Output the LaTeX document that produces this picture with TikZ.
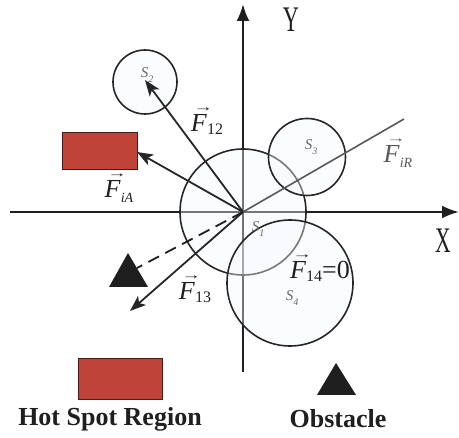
\documentclass[tikz,border=0pt]{standalone}
\usepackage{fontspec}
\setmainfont{Liberation Serif}
\usetikzlibrary{arrows.meta}
\definecolor{hotred}{HTML}{C0433A}
\definecolor{circfill}{HTML}{F4F7FC}
\newcommand{\vecF}{\makebox[0pt][l]{\raisebox{0.8em}{\hspace{0.1em}\fontsize{13}{13}\selectfont\scalebox{1.5}[1]{→}}}\textit{F}}
\newcommand{\sub}[1]{\raisebox{-0.1em}{\fontsize{16}{16}\selectfont #1}}
\newcommand{\isub}[1]{\raisebox{-0.18em}{\fontsize{14}{14}\selectfont\itshape #1}}
\newcommand{\ssub}[1]{\raisebox{-0.35em}{\fontsize{10}{10}\selectfont #1}}
\begin{document}
\begin{tikzpicture}[x=1pt,y=-1pt,
  axis/.style={line width=2.4pt, draw=black!88},
  axtip/.style={-{Latex[length=17pt,width=13pt]}},
  force/.style={line width=1.8pt, draw=black!85, -{Stealth[length=16pt,width=12pt,inset=4pt]}},
  region/.style={circle, draw=black!85, line width=1.6pt, fill=circfill, fill opacity=0.4, inner sep=0pt},
  slabel/.style={text=black!60, font=\fontsize{15}{15}\selectfont\itshape, inner sep=0pt},
  flabel/.style={font=\fontsize{26}{28}\selectfont, text=black!88, inner sep=0pt},
  hotspot/.style={fill=hotred, draw=black!60!hotred, line width=0.6pt, inner sep=0pt},
  obstacle/.style={fill=black!88},
  legend/.style={font=\fontsize{26}{28}\selectfont\bfseries, text=black!88, inner sep=0pt},
  axlabel/.style={font=\fontsize{36}{36}\selectfont, text=black!88, inner sep=0pt}
]
\useasboundingbox (0,0) rectangle (459,438);
% origin and axis ends
\coordinate (O) at (243,212);
\coordinate (xl) at (10,212);
\coordinate (xr) at (459,212);
\coordinate (yb) at (243,372);
\coordinate (yt) at (243,4);
\draw[axis] (xl) -- (O);
\draw[axis,axtip] (O) -- (xr);
\draw[axis] (yb) -- (O);
\draw[axis,axtip] (O) -- (yt);
\node[axlabel] (Ylab) at (291,20) {\scalebox{0.62}[1]{Y}};
\node[axlabel] (Xlab) at (443,241) {\scalebox{0.6}[1]{X}};
% regions
\node[region, minimum size=126pt] (S1) at (O) {};
\node[region, minimum size=64pt] (S2) at (145,82) {};
\node[region, minimum size=77pt] (S3) at (307,157) {};
\node[region, minimum size=126pt] (S4) at (290,283) {};
\node[slabel] (S1l) at (258,229) {S\ssub{1}};
\node[slabel] (S2l) at (147,75) {S\ssub{2}};
\node[slabel] (S3l) at (311,147) {S\ssub{3}};
\node[slabel] (S4l) at (292,298) {S\ssub{4}};
% hot spot and obstacle in the field
\node[hotspot, minimum width=75pt, minimum height=37pt] (hot) at (99.5,150.5) {};
\fill[obstacle] (128,253) -- (109,287) -- (148,287) -- cycle;
\coordinate (obs) at (137,268);
% forces
\coordinate (t12) at (145,80);
\coordinate (tA) at (137,152);
\coordinate (tR) at (404,119);
\coordinate (t13) at (130,311);
\draw[force] (O) -- (t12);
\draw[force] (O) -- (tA);
\draw[force] (O) -- (t13);
\draw[line width=1.6pt, draw=black!65] (O) -- (tR);
\draw[line width=1.8pt, draw=black!88, dash pattern=on 12pt off 7pt] (O) -- (obs);
\node[flabel] (F12) at (207,121) {\vecF\sub{12}};
\node[flabel] (FiA) at (119,188) {\vecF\isub{iA}};
\node[flabel, text=black!65] (FiR) at (398,153) {\vecF\isub{iR}};
\node[flabel] (F13) at (195,289) {\vecF\sub{13}};
\node[flabel] (F14) at (320,268) {\vecF\sub{14}=0};
% legend
\node[hotspot, minimum width=84pt, minimum height=41pt] (leghot) at (120,378.5) {};
\fill[obstacle] (336,363) -- (317,395) -- (356,395) -- cycle;
\node[legend] (hotlab) at (110,419) {Hot Spot Region};
\node[legend] (obslab) at (338,419) {Obstacle};
\end{tikzpicture}
\end{document}
